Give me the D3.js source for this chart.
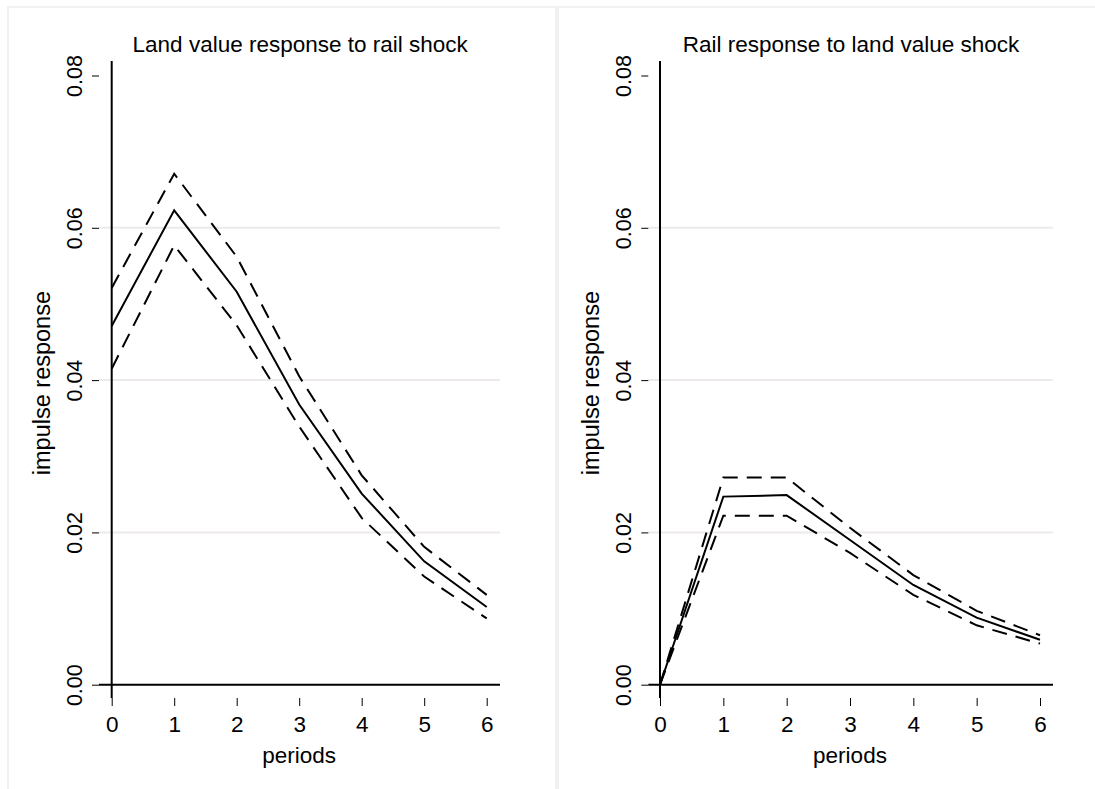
<!DOCTYPE html>
<html>
<head>
<meta charset="utf-8">
<script src="https://cdn.jsdelivr.net/npm/d3@7"></script>
<style>
  body { margin: 0; background: #fff; }
  svg { display: block; font-family: "Liberation Sans", Arial, sans-serif; }
</style>
</head>
<body>
<div id="chart"></div>
<script>
// data
const periods = [0, 1, 2, 3, 4, 5, 6];
const yTicks = [0, 0.02, 0.04, 0.06, 0.08];
const titles = ["Land value response to rail shock", "Rail response to land value shock"];

// land value response to rail shock
const landIrf   = [0.0471, 0.0623, 0.0516, 0.0368, 0.0251, 0.0162, 0.0102];
const landUpper = [0.0521, 0.0671, 0.0562, 0.0405, 0.0275, 0.0181, 0.0118];
const landLower = [0.0415, 0.0577, 0.0472, 0.0339, 0.0219, 0.0142, 0.0087];

// rail response to land value shock
const railIrf   = [0, 0.0247, 0.0249, 0.0190, 0.0131, 0.0088, 0.0059];
const railUpper = [0, 0.0272, 0.0272, 0.0206, 0.0144, 0.0097, 0.0065];
const railLower = [0, 0.0222, 0.0222, 0.0173, 0.0118, 0.0078, 0.0054];

const width = 1095;
const height = 789;

const svg = d3.select("#chart")
    .append("svg")
    .attr("width", width)
    .attr("height", height);

// panel layouts
const panels = [
    { title: titles[0], mid: landIrf, hi: landUpper, lo: landLower,
      box: [8, 7, 548], x0: 111.7, x1: 486.7, right: 500, tickX: 99, titleX: 43 },
    { title: titles[1], mid: railIrf, hi: railUpper, lo: railLower,
      box: [558, 7, 545], x0: 660, x1: 1040, right: 1053, tickX: 648.3, titleX: 592 }
];

const y = d3.scaleLinear().domain([0, 0.08]).range([684.7, 75.5]);

panels.forEach(p => {
    const g = svg.append("g");

    // faint panel frame
    g.append("rect")
        .attr("x", p.box[0])
        .attr("y", p.box[1])
        .attr("width", p.box[2])
        .attr("height", height + 20)
        .attr("fill", "none")
        .attr("stroke", "#f3f0f0")
        .attr("stroke-width", 2);

    const x = d3.scaleLinear().domain([0, 6]).range([p.x0, p.x1]);

    // gridlines
    g.append("g").selectAll("line")
        .data(yTicks.filter(t => t > 0 && t < 0.08))
        .enter().append("line")
        .attr("x1", p.tickX)
        .attr("x2", p.right)
        .attr("y1", d => y(d))
        .attr("y2", d => y(d))
        .attr("stroke", "#eeeaea")
        .attr("stroke-width", 2);

    // y axis ticks and rotated labels
    const yAxis = g.append("g")
        .attr("transform", `translate(${p.tickX},0)`)
        .call(d3.axisLeft(y).tickValues(yTicks).tickSize(7).tickFormat(d3.format(".2f")));
    yAxis.select(".domain").remove();
    yAxis.selectAll("line").attr("stroke", "#000").attr("stroke-width", 1);
    yAxis.selectAll("text")
        .attr("x", 0)
        .attr("dy", null)
        .attr("text-anchor", "middle")
        .attr("transform", "translate(-17.5,0) rotate(-90)")
        .attr("font-size", "21.5px")
        .attr("font-family", "Liberation Sans, Arial, sans-serif")
        .attr("fill", "#000");

    // x axis ticks and labels
    const xAxis = g.append("g")
        .attr("transform", "translate(0,698)")
        .call(d3.axisBottom(x).tickValues(periods).tickSize(8).tickPadding(10).tickFormat(d3.format("d")));
    xAxis.select(".domain").remove();
    xAxis.selectAll("line").attr("stroke", "#000").attr("stroke-width", 1);
    xAxis.selectAll("text")
        .attr("font-size", "22.5px")
        .attr("font-family", "Liberation Sans, Arial, sans-serif")
        .attr("fill", "#000");

    // axis lines at zero
    g.append("line")
        .attr("x1", p.x0).attr("x2", p.x0)
        .attr("y1", 61).attr("y2", 698)
        .attr("stroke", "#000").attr("stroke-width", 2);
    g.append("line")
        .attr("x1", p.tickX).attr("x2", p.right)
        .attr("y1", y(0)).attr("y2", y(0))
        .attr("stroke", "#000").attr("stroke-width", 2);

    // impulse response and bands
    const line = d3.line()
        .x((d, i) => x(periods[i]))
        .y(d => y(d));

    [p.hi, p.lo].forEach(series => {
        g.append("path")
            .datum(series)
            .attr("d", line)
            .attr("fill", "none")
            .attr("stroke", "#000")
            .attr("stroke-width", 2)
            .attr("stroke-dasharray", "15,9");
    });
    g.append("path")
        .datum(p.mid)
        .attr("d", line)
        .attr("fill", "none")
        .attr("stroke", "#000")
        .attr("stroke-width", 2);

    // titles
    g.append("text")
        .attr("x", (p.x0 + p.x1) / 2 + 1)
        .attr("y", 52)
        .attr("text-anchor", "middle")
        .attr("font-size", "22.5px")
        .text(p.title);

    g.append("text")
        .attr("x", (p.x0 + p.x1) / 2)
        .attr("y", 763)
        .attr("text-anchor", "middle")
        .attr("font-size", "22.5px")
        .text("periods");

    g.append("text")
        .attr("transform", `translate(${p.titleX + 7},${(y(0) + y(0.08)) / 2 + 3}) rotate(-90)`)
        .attr("text-anchor", "middle")
        .attr("font-size", "23.5px")
        .text("impulse response");
});
</script>
</body>
</html>
